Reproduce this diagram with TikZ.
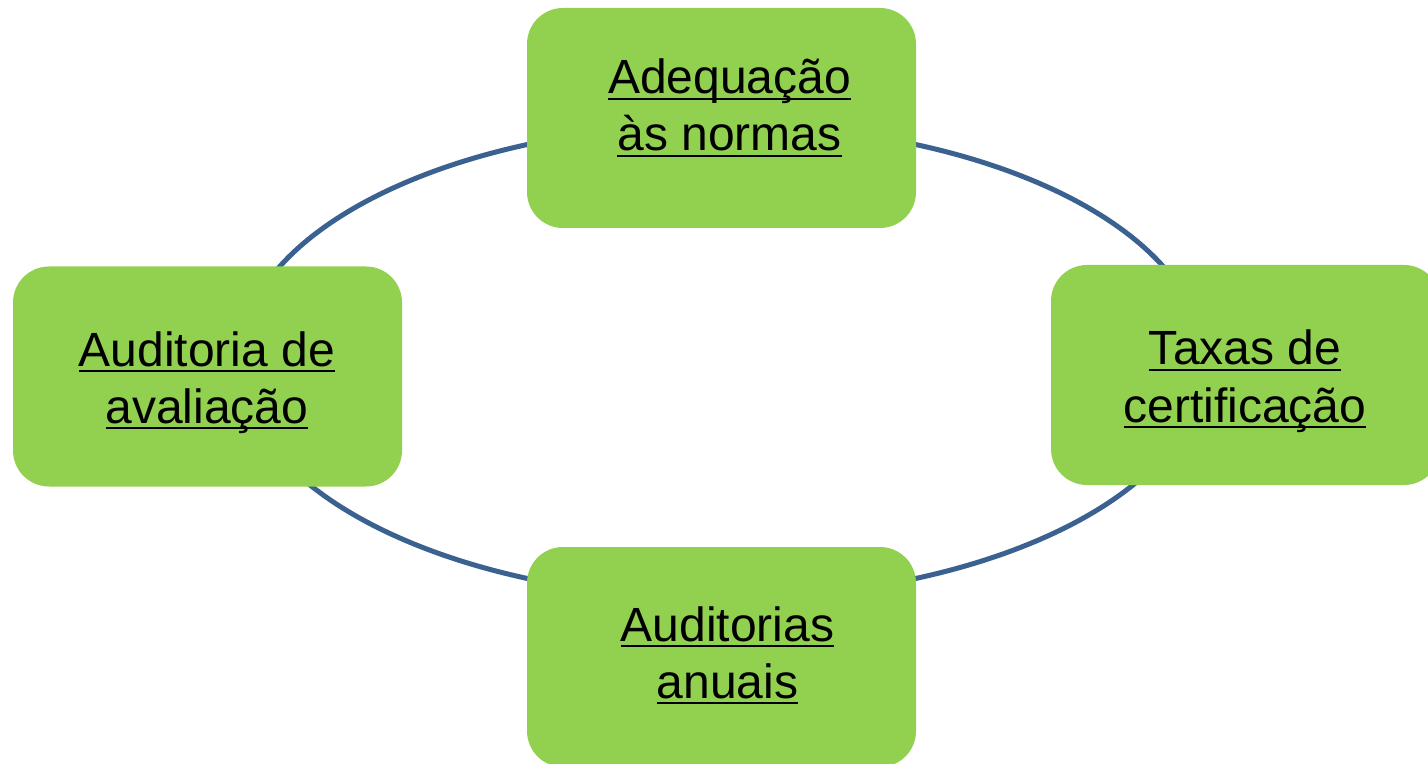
\documentclass[tikz,border=0pt]{standalone}
\usepackage{fontspec}
\setmainfont{Liberation Sans}
\definecolor{boxgreen}{HTML}{92D050}
\definecolor{cycleblue}{HTML}{3A6190}
% underline at a fixed depth below the baseline
\newsavebox{\ulbox}
\newcommand{\ulline}[1]{\sbox{\ulbox}{#1}\rlap{\rule[-3pt]{\wd\ulbox}{1pt}}\usebox{\ulbox}}
\begin{document}
\begin{tikzpicture}[x=0.5pt, y=-0.5pt,
  stepbox/.style={fill=boxgreen, rounded corners=18pt, minimum width=194.5pt, minimum height=110pt, inner sep=0pt},
  lbl/.style={align=center, anchor=base, inner sep=0pt, font=\fontsize{24pt}{28.5pt}\selectfont}]
  \useasboundingbox (0,0) rectangle (1428,764);

  % Cycle behind the boxes
  \draw[cycleblue, line width=2.5pt] (721.5,361.5) ellipse [x radius=482, y radius=237];

  % Boxes
  \node[stepbox] (norms) at (721.5,118) {};
  \node[stepbox] (fees) at (1245.5,375) {};
  \node[stepbox] (annual) at (721.5,657) {};
  \node[stepbox] (assess) at (207.5,376.5) {};

  % Labels (base = last line)
  \node[lbl] (normstext) at (729.5,151) {\ulline{Adequação}\\\ulline{às normas}};
  \node[lbl] (feestext) at (1245,422) {\ulline{Taxas de}\\\ulline{certificação}};
  \node[lbl] (annualtext) at (727.5,698) {\ulline{Auditorias}\\\ulline{anuais}};
  \node[lbl] (assesstext) at (207,423) {\ulline{Auditoria de}\\\ulline{avaliação}};
\end{tikzpicture}
\end{document}
